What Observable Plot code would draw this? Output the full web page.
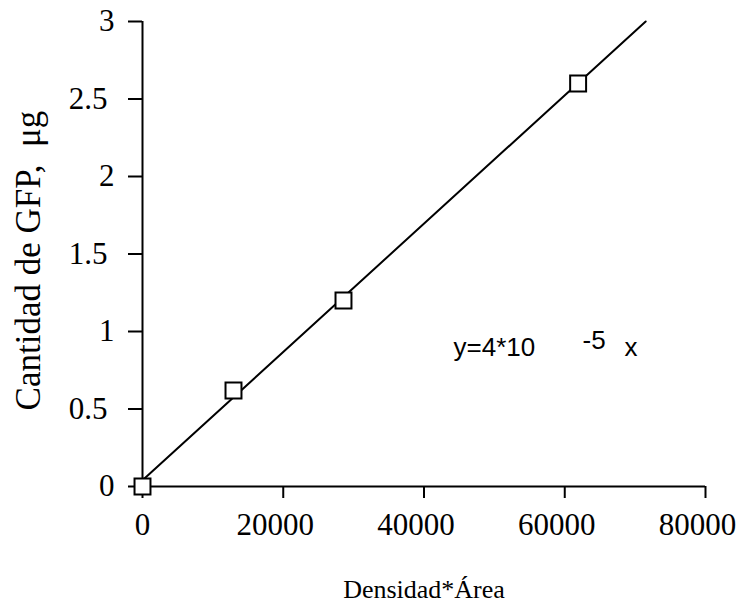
<!DOCTYPE html>
<html>
<head>
<meta charset="utf-8">
<script src="https://cdn.jsdelivr.net/npm/d3@7"></script>
<script src="https://cdn.jsdelivr.net/npm/@observablehq/plot@0.6"></script>
<style>
  html, body { margin: 0; padding: 0; background: #fff; }
</style>
</head>
<body>
<div id="chart"></div>
<script>
const densidadArea = [0, 12930, 28560, 61900];
const cantidadGFP = [0, 0.62, 1.2, 2.6];
const fitX = [0, 71500];
const fitY = [0.04, 3.0];
const xTicks = [0, 20000, 40000, 60000, 80000];
const yTicks = [0, 0.5, 1, 1.5, 2, 2.5, 3];
const xLabel = "Densidad*Área";
const yLabel = "Cantidad de GFP,  μg";

const points = densidadArea.map((x, i) => ({x, y: cantidadGFP[i]}));
const fit = fitX.map((x, i) => ({x, y: fitY[i]}));

const serif = "'Liberation Serif', 'Times New Roman', serif";
const sans = "'Liberation Sans', Arial, sans-serif";

const xTickZero = xTicks.filter(d => d === 0);
const xTickOther = xTicks.filter(d => d !== 0);
const yTickInt = yTicks.filter(d => Number.isInteger(d));
const yTickDec = yTicks.filter(d => !Number.isInteger(d));

const chart = Plot.plot({
  width: 740,
  height: 607,
  marginLeft: 142,
  marginRight: 35,
  marginTop: 21,
  marginBottom: 121,
  style: {fontFamily: serif, color: "#000", background: "#fff"},
  x: {domain: [0, 80000]},
  y: {domain: [0, 3]},
  marks: [
    // tick marks
    Plot.axisX({ticks: xTicks, tickSize: 12, strokeWidth: 2, text: null, label: null}),
    Plot.axisY({ticks: yTicks, tickSize: 14, strokeWidth: 2, text: null, label: null}),
    // tick labels
    Plot.axisX({ticks: xTickZero, tickFormat: d3.format("d"), tickSize: 0, tickPadding: 26, label: null, fontSize: 31}),
    Plot.axisX({ticks: xTickOther, tickFormat: d3.format("d"), tickSize: 0, tickPadding: 26, dx: -8, label: null, fontSize: 31}),
    Plot.axisY({ticks: yTickInt, tickFormat: d => String(d), tickSize: 0, tickPadding: 28, label: null, fontSize: 31}),
    Plot.axisY({ticks: yTickDec, tickFormat: d => String(d), tickSize: 0, tickPadding: 28, dx: -7, label: null, fontSize: 31}),
    // axis lines
    Plot.ruleX([0], {y1: 0, y2: 3, strokeWidth: 2}),
    Plot.ruleY([0], {x1: 0, x2: 80000, strokeWidth: 2}),
    // fitted line and data
    Plot.line(fit, {x: "x", y: "y", strokeWidth: 2, stroke: "#000"}),
    Plot.dot(points, {x: "x", y: "y", symbol: "square", r: 9, fill: "#fff", stroke: "#000", strokeWidth: 2}),
    // axis titles
    Plot.text([xLabel], {frameAnchor: "bottom", dy: 103, lineAnchor: "middle", textAnchor: "middle", fontSize: 26, fontFamily: serif, fill: "#000"}),
    Plot.text([yLabel], {frameAnchor: "left", y: () => 1.458, rotate: -90, dx: -114, lineAnchor: "middle", textAnchor: "middle", fontSize: 35, fontFamily: serif, fill: "#000"}),
    // equation annotation
    Plot.text(["y=4*10"], {x: 44190, y: 0.897, text: d => d, textAnchor: "start", fontFamily: sans, fontSize: 26, fill: "#000"}),
    Plot.text(["-5"], {x: 62520, y: 0.94, text: d => d, textAnchor: "start", fontFamily: sans, fontSize: 26, fill: "#000"}),
    Plot.text(["x"], {x: 68490, y: 0.897, text: d => d, textAnchor: "start", fontFamily: sans, fontSize: 26, fill: "#000"})
  ]
});
document.getElementById("chart").appendChild(chart);
</script>
</body>
</html>
